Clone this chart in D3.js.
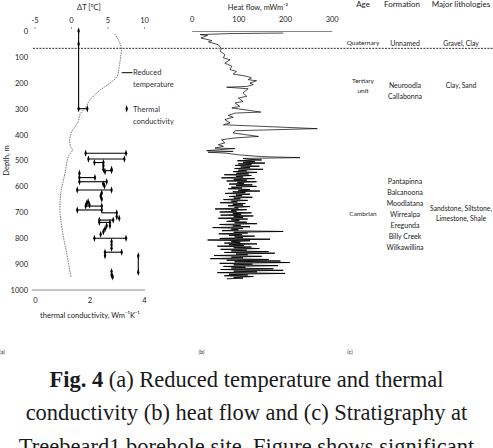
<!DOCTYPE html>
<html>
<head>
<meta charset="utf-8">
<script src="https://cdn.jsdelivr.net/npm/d3@7"></script>
<style>
	body { margin: 0; background: #fff; }
	svg { display: block; font-family: Lato, "Open Sans", sans-serif; }
</style>
</head>
<body>
<svg id="fig" width="493" height="448"></svg>
<script>
// tick labels
const depthTicks = [0, 100, 200, 300, 400, 500, 600, 700, 800, 900, 1000];
const tempTicks = [-5, 0, 5, 10];
const condTicks = [0, 2, 4];
const flowTicks = [0, 100, 200, 300];

// (a) reduced temperature, depth in m / deltaT in degC
const tempDepth = [11, 41, 67, 99, 138, 176, 202, 228, 266, 292, 324, 350, 369, 389, 421, 447, 459, 485, 549, 588, 627, 665, 704, 756, 807, 858, 910, 949];
const tempValue = [6.0, 6.6, 6.9, 6.8, 6.6, 6.3, 5.3, 4.0, 2.6, 2.05, 1.2, 1.0, 0.55, 0.1, -0.2, -0.05, 0.2, -0.37, -0.82, -1.14, -1.41, -1.5, -1.5, -1.27, -0.96, -0.59, -0.27, 0];

// (a) thermal conductivity samples [depth, k]
const condPoints = [
	[0, 1.6], [50, 1.6], [300, 1.6], [300, 1.92],
	[472, 1.86], [472, 3.34], [494, 1.96], [494, 3.28], [508, 2.18], [508, 2.51],
	[520, 2.51], [534, 2.51], [543, 2.57], [534, 2.81], [539, 2.81],
	[549, 1.63], [566, 1.63], [566, 2.2], [582, 1.63], [582, 2.63], [590, 2.5], [598, 2.55],
	[614, 1.55], [614, 2.81], [625, 2.45], [637, 2.41], [649, 2.45],
	[659, 1.95], [665, 1.9], [672, 2.0], [676, 1.86], [676, 2.45],
	[691, 1.55], [691, 2.45], [702, 3.0], [717, 3.0], [723, 3.09],
	[730, 2.36], [730, 2.87], [739, 2.36], [739, 2.75],
	[752, 2.63], [752, 2.75], [764, 2.57], [775, 2.51], [785, 2.41],
	[800, 2.18], [800, 3.34], [813, 2.81], [826, 2.81], [839, 2.81],
	[854, 2.57], [854, 3.18], [868, 2.57], [868, 3.79], [932, 3.79],
	[929, 2.81], [942, 2.81], [949, 2.85]
];
// horizontal ranges [depth, kmin, kmax]
const condRanges = [
	[300, 1.6, 1.92], [472, 1.86, 3.34], [494, 1.96, 3.28], [508, 2.18, 2.51], [539, 2.57, 2.81],
	[566, 1.63, 2.2], [582, 1.63, 2.63], [614, 1.55, 2.81], [676, 1.86, 2.45], [691, 1.55, 2.45],
	[702, 2.45, 3.0], [730, 2.36, 2.87], [739, 2.36, 2.75], [800, 2.18, 3.34], [854, 2.57, 3.18]
];
// vertical ranges [k, depthTop, depthBottom]
const condSpans = [[1.6, 0, 300], [3.79, 868, 932], [2.51, 508, 534]];

// (b) heat flow, sparse upper log [depth, q]
const flowUpper = [
	[8, 196], [10, 80], [14, 18], [17, 34], [27, 20], [37, 43], [42, 36], [53, 57], [68, 64], [78, 61],
	[91, 71], [104, 68], [111, 82], [124, 71], [136, 86], [149, 82], [156, 96], [166, 89], [175, 118],
	[181, 128], [188, 121], [192, 139], [201, 125], [207, 132], [214, 118], [217, 75], [223, 121],
	[239, 110], [252, 118], [259, 100], [272, 110], [278, 93], [291, 103], [297, 86], [313, 148],
	[317, 93], [326, 78], [333, 89], [342, 71], [355, 82], [362, 68], [377, 269], [385, 93], [394, 89],
	[407, 143], [413, 93], [420, 64], [432, 71], [439, 57], [445, 68], [452, 50], [454, 93], [458, 60],
	[462, 32], [465, 89], [468, 35], [472, 75], [478, 100], [485, 150], [489, 232], [492, 110]
];
// (b) heat flow, dense log below 495 m (one reading every 3 m)
const flowDenseStart = 495;
const flowDenseStep = 3;
const flowDense = [
	120, 150, 98, 135, 110, 157, 100, 128, 93, 145,
	105, 125, 92, 153, 100, 118, 89, 140, 96, 122,
	70, 128, 95, 110, 64, 135, 90, 118, 75, 139,
	98, 112, 80, 130, 95, 139, 85, 108, 78, 125,
	100, 146, 88, 115, 72, 125, 95, 108, 80, 130,
	90, 104, 68, 120, 85, 98, 61, 115, 88, 110,
	78, 125, 92, 100, 50, 118, 85, 96, 60, 128,
	88, 106, 62, 132, 90, 110, 57, 120, 85, 102,
	75, 118, 92, 140, 60, 105, 88, 125, 45, 110,
	85, 100, 65, 196, 90, 120, 58, 108, 80, 135,
	92, 110, 60, 168, 34, 125, 85, 104, 70, 140,
	80, 112, 55, 128, 90, 145, 62, 118, 85, 165,
	70, 178, 95, 120, 48, 150, 85, 110, 40, 165,
	75, 190, 92, 210, 60, 130, 90, 185, 68, 115,
	85, 175, 62, 196, 90, 140, 55, 200, 80, 120,
	70, 132, 90, 110, 75
];

// (c) stratigraphy, row text and mid depth
const stratHeaders = ["Age", "Formation", "Major lithologies"];
const stratAge = [
	{ lines: ["Quaternary"], depth: 47 },
	{ lines: ["Tertiary", "unit"], depth: 211 },
	{ lines: ["Cambrian"], depth: 704 }
];
const stratFormation = [
	{ lines: ["Unnamed"], depth: 47 },
	{ lines: ["Neuroodla", "Callabonna"], depth: 233 },
	{ lines: ["Pantapinna", "Balcanoona", "Moodlatana", "Wirrealpa", "Eregunda", "Billy Creek", "Wilkawillina"], depth: 707 }
];
const stratLithology = [
	{ lines: ["Gravel, Clay"], depth: 47 },
	{ lines: ["Clay, Sand"], depth: 210 },
	{ lines: ["Sandstone, Siltstone,", "Limestone, Shale"], depth: 705 }
];
const boundaryDepth = 67;

const captionLines = [
	[["Fig. 4", true], [" (a) Reduced temperature and thermal", false]],
	[["conductivity (b) heat flow and (c) Stratigraphy at", false]],
	[["Treebeard1 borehole site. Figure shows significant", false]]
];

const svg = d3.select("#fig");

// scales
const y = d3.scaleLinear().domain([0, 1000]).range([31, 290]);
const xT = d3.scaleLinear().domain([-5, 10]).range([34.5, 144]);
const xK = d3.scaleLinear().domain([0, 4]).range([35, 144]);
const xQ = d3.scaleLinear().domain([0, 300]).range([191.7, 331.7]);

const plain = d => String(d);

function styleAxis(g, size) {
	g.selectAll("text").attr("font-size", size).attr("fill", "#222").attr("font-family", "Lato, sans-serif");
	g.selectAll(".tick line").attr("stroke", "#999");
}

// ---- panel (a)
svg.append("g")
	.attr("transform", "translate(31,0)")
	.call(d3.axisLeft(y).tickValues(depthTicks).tickFormat(plain).tickSize(0).tickPadding(3))
	.call(g => g.select(".domain").remove())
	.call(g => styleAxis(g, 7.5));

svg.append("g")
	.attr("transform", "translate(0,29)")
	.call(d3.axisTop(xT).tickValues(tempTicks).tickFormat(plain).tickSize(2).tickPadding(4))
	.call(g => g.select(".domain").remove())
	.call(g => styleAxis(g, 7.5));

svg.append("g")
	.attr("transform", "translate(0,290)")
	.call(d3.axisBottom(xK).tickValues(condTicks).tickFormat(plain).tickSize(0).tickPadding(8))
	.call(g => g.select(".domain").remove())
	.call(g => styleAxis(g, 7.5));
svg.append("line")
	.attr("x1", xK(0) - 3).attr("x2", xK(4) + 1)
	.attr("y1", y(1000)).attr("y2", y(1000))
	.attr("stroke", "#888");

svg.append("text")
	.attr("x", 89).attr("y", 7).attr("dy", "0.35em")
	.attr("text-anchor", "middle").attr("font-size", 7.5).attr("fill", "#222")
	.text("ΔT [ºC]");

svg.append("text")
	.attr("x", 90).attr("y", 315).attr("dy", "0.35em")
	.attr("text-anchor", "middle").attr("font-size", 7.5).attr("fill", "#222")
	.text("thermal conductivity, Wm⁻¹K⁻¹");

svg.append("text")
	.attr("transform", `translate(6,${y(500)}) rotate(-90)`)
	.attr("dy", "0.35em").attr("text-anchor", "middle")
	.attr("font-size", 7.5).attr("fill", "#222")
	.text("Depth, m");

// reduced temperature curve
svg.append("path")
	.datum(d3.zip(tempDepth, tempValue))
	.attr("fill", "none")
	.attr("stroke", "#555")
	.attr("stroke-width", 0.8)
	.attr("stroke-dasharray", "1.5,1")
	.attr("d", d3.line()
		.x(d => xT(d[1]))
		.y(d => y(d[0]))
		.curve(d3.curveCatmullRom.alpha(0.5)));

// conductivity ranges and samples
const gK = svg.append("g").attr("stroke", "#000").attr("stroke-width", 1.1);
gK.selectAll("line.r")
	.data(condRanges)
	.join("line")
	.attr("class", "r")
	.attr("x1", d => xK(d[1])).attr("x2", d => xK(d[2]))
	.attr("y1", d => y(d[0])).attr("y2", d => y(d[0]));
gK.selectAll("line.s")
	.data(condSpans)
	.join("line")
	.attr("class", "s")
	.attr("x1", d => xK(d[0])).attr("x2", d => xK(d[0]))
	.attr("y1", d => y(d[1])).attr("y2", d => y(d[2]));

const marker = d3.symbol(d3.symbolDiamond, 8);
svg.append("g")
	.selectAll("path")
	.data(condPoints)
	.join("path")
	.attr("transform", d => `translate(${xK(d[1])},${y(d[0])}) scale(0.8,1.4)`)
	.attr("d", marker)
	.attr("fill", "#000");

// legend
svg.append("line")
	.attr("x1", 121.7).attr("x2", 132.5).attr("y1", 72.7).attr("y2", 72.7)
	.attr("stroke", "#000").attr("stroke-width", 1);
svg.append("path")
	.attr("transform", "translate(126.7,108.7) scale(0.8,1.4)")
	.attr("d", marker);
const legendText = [["Reduced", 72.7], ["temperature", 84], ["Thermal", 109], ["conductivity", 121]];
svg.append("g")
	.selectAll("text")
	.data(legendText)
	.join("text")
	.attr("x", 133).attr("y", d => d[1]).attr("dy", "0.35em")
	.attr("font-size", 7.5).attr("fill", "#333")
	.text(d => d[0]);

// ---- panel (b)
svg.append("g")
	.attr("transform", "translate(0,31)")
	.call(d3.axisTop(xQ).tickValues(flowTicks).tickFormat(plain).tickSize(0).tickPadding(9))
	.call(g => g.select(".domain").attr("stroke", "#888"))
	.call(g => styleAxis(g, 7.5));

svg.append("text")
	.attr("x", 258).attr("y", 7).attr("dy", "0.35em")
	.attr("text-anchor", "middle").attr("font-size", 7.5).attr("fill", "#222")
	.text("Heat flow, mWm⁻²");

const flowLine = d3.line().x(d => xQ(d[1])).y(d => y(d[0]));
svg.append("path")
	.datum(flowUpper)
	.attr("fill", "none")
	.attr("stroke", "#000")
	.attr("stroke-width", 0.7)
	.attr("d", flowLine);
// dense part continues from the last upper reading
const flowLower = [flowUpper[flowUpper.length - 1]]
	.concat(flowDense.map((q, i) => [flowDenseStart + i * flowDenseStep, q]));
svg.append("path")
	.datum(flowLower)
	.attr("fill", "none")
	.attr("stroke", "#000")
	.attr("stroke-width", 0.9)
	.attr("d", flowLine);

// boundary line across all panels
svg.append("line")
	.attr("x1", 33).attr("x2", 493)
	.attr("y1", y(boundaryDepth)).attr("y2", y(boundaryDepth))
	.attr("stroke", "#000").attr("stroke-width", 0.8)
	.attr("stroke-dasharray", "2,1.2");

// ---- panel (c)
const stratCols = [363, 402, 461];
svg.append("g")
	.selectAll("text")
	.data(stratHeaders)
	.join("text")
	.attr("x", (d, i) => stratCols[i]).attr("y", 4).attr("dy", "0.35em")
	.attr("text-anchor", "middle").attr("font-size", 8).attr("fill", "#222")
	.text(d => d);

function stratColumn(rows, x, size, lineH) {
	const g = svg.append("g");
	rows.forEach(r => {
		const mid = y(r.depth);
		const top = mid - (r.lines.length - 1) * lineH / 2;
		g.selectAll(null)
			.data(r.lines)
			.join("text")
			.attr("x", x).attr("y", (d, i) => top + i * lineH).attr("dy", "0.35em")
			.attr("text-anchor", "middle").attr("font-size", size).attr("fill", "#222")
			.text(d => d);
	});
}
stratColumn(stratAge, stratCols[0], 6.5, 10.5);
stratColumn(stratFormation, 405, 7, 11);
stratColumn(stratLithology, stratCols[2], 6.8, 10.7);

// panel labels
const panelLabels = [["(a)", 2], ["(b)", 201.5], ["(c)", 350]];
svg.append("g")
	.selectAll("text")
	.data(panelLabels)
	.join("text")
	.attr("x", d => d[1]).attr("y", 352.5).attr("dy", "0.35em")
	.attr("text-anchor", "middle").attr("font-size", 5.5).attr("fill", "#222")
	.text(d => d[0]);

// caption (third line runs past the bottom edge, as in the source page)
const cap = svg.append("g")
	.attr("font-family", "'Liberation Serif', 'DejaVu Serif', serif")
	.attr("font-size", 22.5)
	.attr("fill", "#1a1a1a");
captionLines.forEach((parts, i) => {
	const t = cap.append("text")
		.attr("x", 246.5).attr("y", 386.5 + i * 33.5)
		.attr("text-anchor", "middle");
	parts.forEach(p => {
		t.append("tspan")
			.attr("font-weight", p[1] ? "bold" : "normal")
			.text(p[0]);
	});
});
</script>
</body>
</html>
